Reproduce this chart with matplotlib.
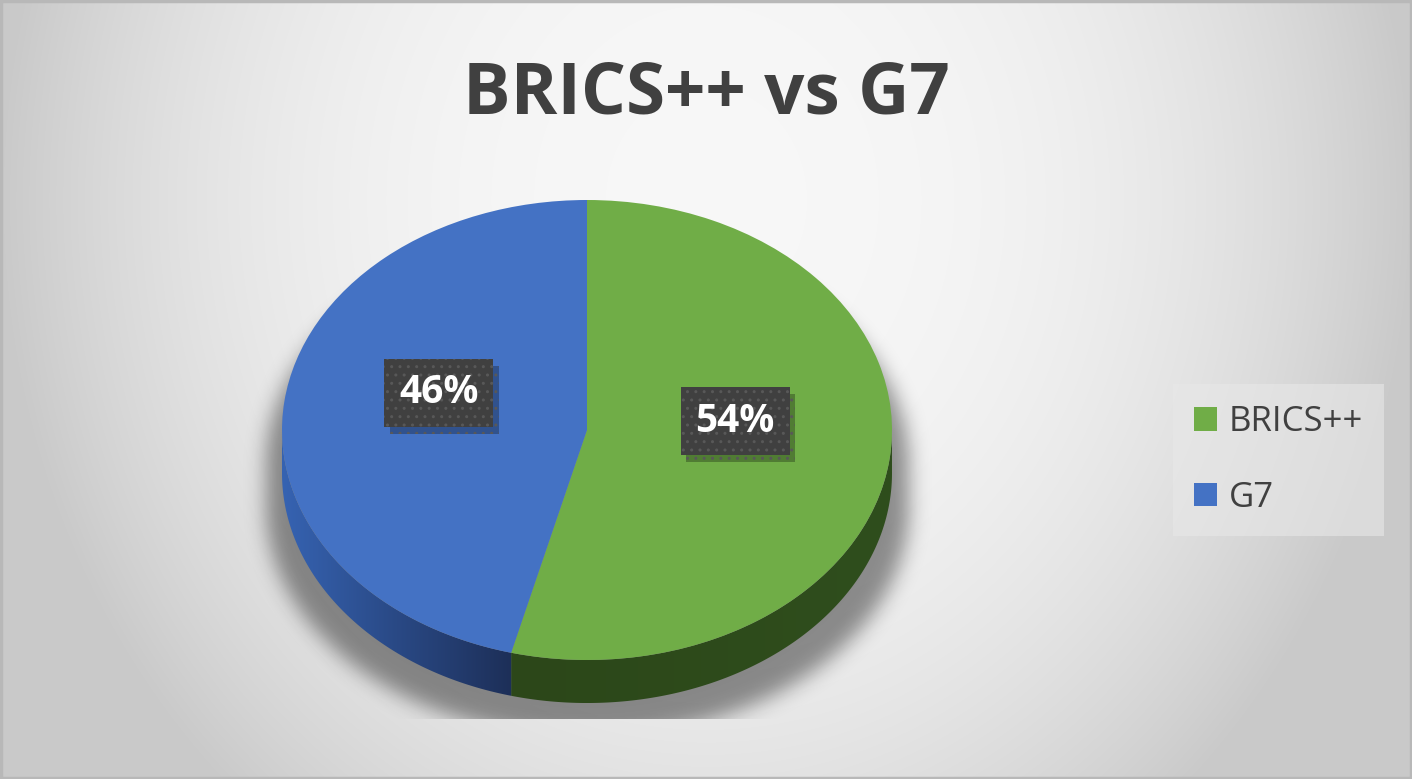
import numpy as np
import matplotlib.pyplot as plt
from matplotlib.patches import Polygon, Rectangle
from matplotlib.colors import LinearSegmentedColormap
from matplotlib import patheffects as pe

# data
categories = ['BRICS++', 'G7']
shares = [54, 46]
top_colors = ['#70ad47', '#4472c4']
side_colors = [('#2c4719', '#2f4e1d'), ('#3663b2', '#1d2f58')]

W, H = 1412, 779
DEPTH = 0.187  # thickness of the pie, in units of the vertical radius

plt.rcParams['font.family'] = ['Open Sans', 'DejaVu Sans']


def blur(a, s):
    k = np.exp(-0.5 * (np.arange(-3 * s, 3 * s + 1) / s) ** 2)
    k /= k.sum()
    a = np.apply_along_axis(lambda m: np.convolve(m, k, mode='same'), 0, a)
    a = np.apply_along_axis(lambda m: np.convolve(m, k, mode='same'), 1, a)
    return a


def visible_range(t1, t2):
    # part of a wedge whose outer rim faces the viewer (lower half)
    for k in (-360, 0, 360):
        a, b = max(t1, -180 + k), min(t2, k)
        if b > a:
            return a - k, b - k
    return None


fig = plt.figure(figsize=(W / 100, H / 100), dpi=100)

# background gradient
bg = fig.add_axes([0, 0, 1, 1])
yy, xx = np.mgrid[0:H, 0:W]
r = np.hypot((xx - 706) / 706, (yy - 200) / 800)
v = 0.97 - 0.18 * np.clip(r, 0, 1) ** 2.5
bg.imshow(np.dstack([v, v, v]), extent=(0, W, H, 0), aspect='auto')
bg.add_patch(Rectangle((1, 1), W - 2, H - 2, fill=False, ec='#b8b8b8', lw=2.5))
bg.set_xlim(0, W)
bg.set_ylim(H, 0)
bg.axis('off')

# pie axes (elliptical: horizontal radius 305 px, vertical 230 px)
ax = fig.add_axes([129.5 / W, 4 / H, 915 / W, 690 / H])
wedges, _, autotexts = ax.pie(
    shares, colors=top_colors, startangle=90, counterclock=False,
    wedgeprops=dict(linewidth=0, zorder=3), autopct='%1.0f%%', pctdistance=0.49,
    textprops=dict(color='white', fontsize=28, fontweight='bold'))
ax.set_aspect('auto')
ax.set_xlim(-1.5, 1.5)
ax.set_ylim(-1.5, 1.5)
ax.axis('off')

# soft drop shadow on the floor
gx = np.linspace(-1.5, 1.5, 915)
gy = np.linspace(1.5, -1.5, 690)
GX, GY = np.meshgrid(gx, gy)
xs = GX / 1.055
half = np.sqrt(np.clip(1 - xs ** 2, 0, None))
sy = GY + 0.15
mask = ((np.abs(xs) <= 1) & (sy <= half) & (sy >= -half - DEPTH)).astype(float)
alpha = blur(mask, 10) * 0.42
alpha[GY < -1.26] = 0
shadow = np.zeros((690, 915, 4))
shadow[..., 3] = alpha
ax.imshow(shadow, extent=(-1.5, 1.5, -1.5, 1.5), aspect='auto', zorder=0)

# side walls
for w, (c1, c2) in zip(wedges, side_colors):
    rng = visible_range(w.theta1, w.theta2)
    if rng is None:
        continue
    t = np.radians(np.linspace(rng[0], rng[1], 300))
    top = np.column_stack([np.cos(t), np.sin(t)])
    bot = np.column_stack([np.cos(t[::-1]), np.sin(t[::-1]) - DEPTH])
    poly = Polygon(np.vstack([top, bot]), closed=True, fc='none', ec='none', zorder=2)
    ax.add_patch(poly)
    cmap = LinearSegmentedColormap.from_list('side', [c1, c2])
    x0, x1 = top[:, 0].min(), top[:, 0].max()
    im = ax.imshow(np.linspace(0, 1, 256).reshape(1, -1), cmap=cmap, aspect='auto',
                   extent=(x0, x1, -1 - DEPTH, 0.1), zorder=2)
    im.set_clip_path(poly)

# data labels
for t in autotexts:
    x, y = t.get_position()
    t.set_position((x, y + 0.1))
    t.set_zorder(6)
    t.set_bbox(dict(boxstyle='square,pad=0.38', fc='#404040', ec='#585858', lw=0, hatch='..'))
    t.get_bbox_patch().set_path_effects([
        pe.SimplePatchShadow(offset=(4, -5), shadow_rgbFace='black', alpha=0.28),
        pe.Normal()])

# title
fig.text(706 / W, 1 - 114 / H, 'BRICS++ vs G7', ha='center', va='baseline',
         fontsize=51, fontweight='bold', color='#404040')

# legend
fig.legend(wedges, categories, loc='center left', bbox_to_anchor=(1173 / W, 1 - 460 / H),
           frameon=True, fancybox=False, facecolor='#e8e8e8', edgecolor='none',
           framealpha=0.6, fontsize=25, labelcolor='#404040',
           handlelength=0.66, handleheight=0.66, handletextpad=0.35,
           labelspacing=1.2, borderpad=0.6, borderaxespad=0)

fig.savefig('out.png', dpi=100)
